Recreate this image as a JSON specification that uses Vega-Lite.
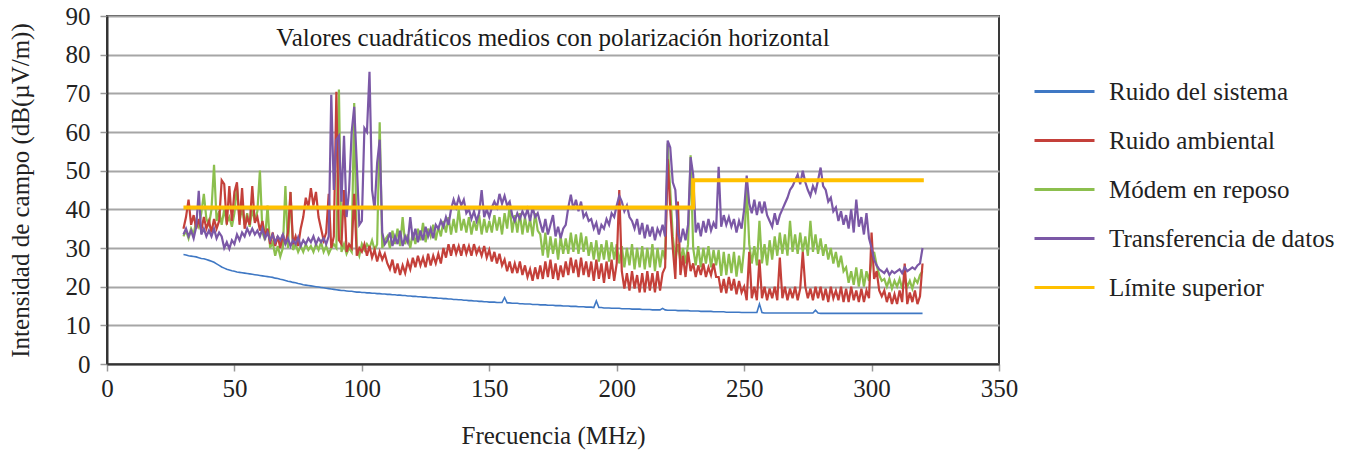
{
  "$schema": "https://vega.github.io/schema/vega-lite/v6.json",
  "width": 892,
  "height": 348,
  "autosize": {"type": "none"},
  "padding": {"left": 107, "top": 16, "right": 349, "bottom": 88},
  "background": "white",
  "title": {
    "text": "Valores cuadráticos medios con polarización horizontal",
    "frame": "group",
    "anchor": "middle",
    "offset": -47,
    "font": "Liberation Serif",
    "fontSize": 25,
    "fontWeight": "normal",
    "color": "#1a1a1a"
  },
  "config": {
    "view": {"stroke": "#3a3a3a", "strokeWidth": 2},
    "axis": {
      "labelFont": "Liberation Serif",
      "titleFont": "Liberation Serif",
      "labelFontSize": 25,
      "titleFontSize": 25,
      "titleFontWeight": "normal",
      "labelColor": "#222222",
      "titleColor": "#222222",
      "domainColor": "#333333",
      "domainWidth": 2,
      "tickColor": "#999999",
      "tickWidth": 1.5,
      "tickSize": 7,
      "labelOverlap": false
    },
    "axisX": {"grid": false, "labelFlush": false, "labelPadding": 5, "titlePadding": 22},
    "axisY": {
      "grid": true,
      "gridColor": "#a6a6a6",
      "gridWidth": 2,
      "labelPadding": 10,
      "titlePadding": 32
    },
    "legend": {
      "orient": "none",
      "legendX": 926,
      "legendY": 44,
      "symbolType": "stroke",
      "symbolSize": 3600,
      "symbolStrokeWidth": 3,
      "labelFont": "Liberation Serif",
      "labelFontSize": 25,
      "labelColor": "#222222",
      "labelOffset": 13,
      "labelLimit": 400,
      "rowPadding": 4
    }
  },
  "datasets": {
    "limite": [
      {"f": 30, "v": 40.5},
      {"f": 230, "v": 47.5},
      {"f": 320.5, "v": 47.5}
    ],
    "espectro": [
      {"f":30,"s":28.3,"a":35,"m":33,"t":33.5},
      {"f":31,"s":28.2,"a":38,"m":34.5,"t":35},
      {"f":32,"s":28.0,"a":42.5,"m":32.5,"t":33},
      {"f":33,"s":27.9,"a":36,"m":35,"t":34.5},
      {"f":34,"s":27.8,"a":38.5,"m":33.5,"t":32.5},
      {"f":35,"s":27.7,"a":35,"m":37,"t":35.5},
      {"f":36,"s":27.5,"a":37.5,"m":35.5,"t":44.8},
      {"f":37,"s":27.3,"a":34.5,"m":39,"t":33.5},
      {"f":38,"s":27.2,"a":38,"m":44,"t":35},
      {"f":39,"s":27.0,"a":35,"m":37.5,"t":33},
      {"f":40,"s":26.8,"a":37,"m":36,"t":34.5},
      {"f":41,"s":26.6,"a":34,"m":40,"t":33},
      {"f":42,"s":26.3,"a":37.5,"m":51.5,"t":35},
      {"f":43,"s":25.9,"a":35,"m":37,"t":32.5},
      {"f":44,"s":25.5,"a":37,"m":39.5,"t":34},
      {"f":45,"s":25.1,"a":47.5,"m":36,"t":33},
      {"f":46,"s":24.8,"a":46.5,"m":40,"t":30},
      {"f":47,"s":24.5,"a":36,"m":36.5,"t":31.5},
      {"f":48,"s":24.3,"a":46,"m":38,"t":29.8},
      {"f":49,"s":24.1,"a":37,"m":35.5,"t":32},
      {"f":50,"s":24.0,"a":44.5,"m":39,"t":31},
      {"f":51,"s":23.8,"a":47,"m":46,"t":33.5},
      {"f":52,"s":23.7,"a":36,"m":37,"t":32},
      {"f":53,"s":23.6,"a":45.5,"m":40.5,"t":34},
      {"f":54,"s":23.5,"a":35,"m":36,"t":33},
      {"f":55,"s":23.4,"a":38,"m":39,"t":35},
      {"f":56,"s":23.3,"a":36,"m":35.5,"t":33.5},
      {"f":57,"s":23.2,"a":46,"m":40,"t":35},
      {"f":58,"s":23.1,"a":36.5,"m":37,"t":33.5},
      {"f":59,"s":23.0,"a":38,"m":39.5,"t":34.5},
      {"f":60,"s":22.9,"a":34.5,"m":50,"t":33},
      {"f":61,"s":22.8,"a":37,"m":34,"t":35},
      {"f":62,"s":22.7,"a":33,"m":32,"t":32.5},
      {"f":63,"s":22.6,"a":35,"m":41,"t":34},
      {"f":64,"s":22.5,"a":31,"m":30,"t":32},
      {"f":65,"s":22.4,"a":34,"m":31.5,"t":33.5},
      {"f":66,"s":22.2,"a":30.5,"m":28,"t":31.5},
      {"f":67,"s":22.1,"a":33,"m":30.5,"t":33},
      {"f":68,"s":21.9,"a":30,"m":27.8,"t":32},
      {"f":69,"s":21.8,"a":33.5,"m":30,"t":33.5},
      {"f":70,"s":21.6,"a":31,"m":46,"t":31},
      {"f":71,"s":21.4,"a":34,"m":30,"t":32.5},
      {"f":72,"s":21.3,"a":44.5,"m":44.5,"t":30.5},
      {"f":73,"s":21.1,"a":31,"m":29.5,"t":32},
      {"f":74,"s":21.0,"a":33,"m":31,"t":31},
      {"f":75,"s":20.8,"a":30.5,"m":29,"t":32.8},
      {"f":76,"s":20.7,"a":35,"m":30.5,"t":30.5},
      {"f":77,"s":20.5,"a":38,"m":29,"t":32},
      {"f":78,"s":20.4,"a":43,"m":31,"t":31},
      {"f":79,"s":20.3,"a":40.5,"m":29.5,"t":32.5},
      {"f":80,"s":20.2,"a":45.5,"m":30.5,"t":31.5},
      {"f":81,"s":20.1,"a":41,"m":29,"t":33},
      {"f":82,"s":20.0,"a":44.5,"m":31,"t":31},
      {"f":83,"s":19.9,"a":38,"m":29.5,"t":32.5},
      {"f":84,"s":19.8,"a":35,"m":31.5,"t":31.5},
      {"f":85,"s":19.7,"a":32,"m":29,"t":32.5},
      {"f":86,"s":19.6,"a":34,"m":30.5,"t":31},
      {"f":87,"s":19.5,"a":44,"m":28.5,"t":33},
      {"f":88,"s":19.4,"a":30,"m":30,"t":69.6},
      {"f":89,"s":19.3,"a":33,"m":31,"t":45},
      {"f":90,"s":19.2,"a":70.4,"m":30,"t":58},
      {"f":91,"s":19.1,"a":32,"m":71,"t":59},
      {"f":92,"s":19.0,"a":31,"m":29,"t":42},
      {"f":93,"s":19.0,"a":45,"m":31,"t":59},
      {"f":94,"s":18.9,"a":29,"m":28.5,"t":38},
      {"f":95,"s":18.8,"a":31,"m":30,"t":45},
      {"f":96,"s":18.8,"a":30,"m":29,"t":60},
      {"f":97,"s":18.7,"a":44,"m":67.5,"t":66.5},
      {"f":98,"s":18.6,"a":28,"m":30,"t":52},
      {"f":99,"s":18.6,"a":30,"m":28,"t":36},
      {"f":100,"s":18.5,"a":29,"m":31,"t":37},
      {"f":101,"s":18.5,"a":31,"m":29.5,"t":61},
      {"f":102,"s":18.4,"a":28,"m":31,"t":60},
      {"f":103,"s":18.4,"a":30.5,"m":30,"t":75.6},
      {"f":104,"s":18.3,"a":27.5,"m":32,"t":45},
      {"f":105,"s":18.3,"a":29.5,"m":29.5,"t":40},
      {"f":106,"s":18.2,"a":26.5,"m":31,"t":52},
      {"f":107,"s":18.2,"a":29,"m":62.5,"t":58},
      {"f":108,"s":18.1,"a":27,"m":30,"t":34},
      {"f":109,"s":18.1,"a":28.5,"m":32,"t":31},
      {"f":110,"s":18.0,"a":26,"m":33,"t":32},
      {"f":111,"s":18.0,"a":24.5,"m":30,"t":34},
      {"f":112,"s":17.9,"a":27,"m":34.5,"t":30.5},
      {"f":113,"s":17.9,"a":23.5,"m":31,"t":33},
      {"f":114,"s":17.8,"a":26,"m":35,"t":31},
      {"f":115,"s":17.8,"a":23,"m":30.5,"t":34.5},
      {"f":116,"s":17.7,"a":25.5,"m":38,"t":30.5},
      {"f":117,"s":17.7,"a":23.5,"m":31,"t":33},
      {"f":118,"s":17.6,"a":26.5,"m":33.5,"t":31.5},
      {"f":119,"s":17.6,"a":24.5,"m":30,"t":38},
      {"f":120,"s":17.5,"a":27.5,"m":34,"t":32},
      {"f":121,"s":17.5,"a":25,"m":31,"t":35},
      {"f":122,"s":17.4,"a":28,"m":35,"t":31.5},
      {"f":123,"s":17.4,"a":25.5,"m":32,"t":34.5},
      {"f":124,"s":17.3,"a":27.5,"m":36.5,"t":32},
      {"f":125,"s":17.3,"a":25,"m":31.5,"t":35.5},
      {"f":126,"s":17.2,"a":28.5,"m":35,"t":33},
      {"f":127,"s":17.2,"a":25.5,"m":33,"t":35},
      {"f":128,"s":17.1,"a":28,"m":36,"t":32.5},
      {"f":129,"s":17.1,"a":26,"m":32,"t":36},
      {"f":130,"s":17.0,"a":28.5,"m":35.5,"t":35},
      {"f":131,"s":17.0,"a":26,"m":33,"t":37},
      {"f":132,"s":16.9,"a":30,"m":37,"t":35.5},
      {"f":133,"s":16.9,"a":27.5,"m":34,"t":38},
      {"f":134,"s":16.8,"a":31,"m":38,"t":36},
      {"f":135,"s":16.8,"a":28,"m":33.5,"t":40},
      {"f":136,"s":16.7,"a":31,"m":37.5,"t":42.5},
      {"f":137,"s":16.7,"a":28.5,"m":34,"t":40.5},
      {"f":138,"s":16.6,"a":30.5,"m":40,"t":43},
      {"f":139,"s":16.6,"a":28,"m":34.5,"t":41},
      {"f":140,"s":16.5,"a":31,"m":37.5,"t":42.5},
      {"f":141,"s":16.5,"a":28.5,"m":34,"t":39},
      {"f":142,"s":16.4,"a":30.5,"m":38,"t":40},
      {"f":143,"s":16.4,"a":28,"m":33.5,"t":37.5},
      {"f":144,"s":16.3,"a":31,"m":37,"t":39.5},
      {"f":145,"s":16.3,"a":28.5,"m":34.5,"t":37},
      {"f":146,"s":16.2,"a":30,"m":38.5,"t":39},
      {"f":147,"s":16.2,"a":28,"m":33.5,"t":45},
      {"f":148,"s":16.1,"a":30.5,"m":37.5,"t":38},
      {"f":149,"s":16.1,"a":27.5,"m":34,"t":40},
      {"f":150,"s":16.0,"a":29.5,"m":37,"t":38},
      {"f":151,"s":16.0,"a":26.5,"m":34,"t":40.5},
      {"f":152,"s":16.0,"a":29,"m":38.5,"t":42},
      {"f":153,"s":15.9,"a":26,"m":34.5,"t":40.5},
      {"f":154,"s":15.9,"a":28.5,"m":38,"t":44},
      {"f":155,"s":15.9,"a":25.5,"m":33.5,"t":41.5},
      {"f":156,"s":17.2,"a":27,"m":39,"t":43.5},
      {"f":157,"s":15.8,"a":24,"m":35,"t":41},
      {"f":158,"s":15.8,"a":26.5,"m":41,"t":42},
      {"f":159,"s":15.7,"a":23.5,"m":34,"t":38.5},
      {"f":160,"s":15.7,"a":26,"m":38.5,"t":37},
      {"f":161,"s":15.7,"a":23.5,"m":34,"t":39},
      {"f":162,"s":15.6,"a":26.5,"m":39,"t":37.5},
      {"f":163,"s":15.6,"a":23,"m":33.5,"t":39.5},
      {"f":164,"s":15.5,"a":25.5,"m":38,"t":38},
      {"f":165,"s":15.5,"a":22.5,"m":34,"t":40},
      {"f":166,"s":15.5,"a":24.5,"m":37.5,"t":37},
      {"f":167,"s":15.4,"a":21.5,"m":33,"t":40.5},
      {"f":168,"s":15.4,"a":25,"m":39,"t":38},
      {"f":169,"s":15.4,"a":22,"m":34.5,"t":39},
      {"f":170,"s":15.3,"a":25.5,"m":33.5,"t":36.5},
      {"f":171,"s":15.3,"a":22,"m":28,"t":34},
      {"f":172,"s":15.3,"a":26.5,"m":34,"t":37.5},
      {"f":173,"s":15.2,"a":22.5,"m":27.5,"t":33.5},
      {"f":174,"s":15.2,"a":27,"m":33,"t":36},
      {"f":175,"s":15.2,"a":22,"m":28.5,"t":38.5},
      {"f":176,"s":15.1,"a":26,"m":32.5,"t":33},
      {"f":177,"s":15.1,"a":21.7,"m":27,"t":35.5},
      {"f":178,"s":15.1,"a":25.5,"m":33,"t":32.5},
      {"f":179,"s":15.0,"a":22.5,"m":28.5,"t":35},
      {"f":180,"s":15.0,"a":26.5,"m":32.5,"t":36},
      {"f":181,"s":15.0,"a":23,"m":28.5,"t":40.5},
      {"f":182,"s":14.9,"a":27.5,"m":34,"t":43.8},
      {"f":183,"s":14.9,"a":23.5,"m":29,"t":40},
      {"f":184,"s":14.9,"a":27,"m":33.5,"t":42.5},
      {"f":185,"s":14.8,"a":22.5,"m":28.5,"t":39.5},
      {"f":186,"s":14.8,"a":27.5,"m":34,"t":42},
      {"f":187,"s":14.8,"a":23,"m":29,"t":38},
      {"f":188,"s":14.7,"a":26.5,"m":33,"t":39},
      {"f":189,"s":14.7,"a":22.5,"m":28,"t":37},
      {"f":190,"s":14.7,"a":26.5,"m":31.5,"t":37.5},
      {"f":191,"s":14.6,"a":21.5,"m":27,"t":35},
      {"f":192,"s":16.3,"a":27,"m":32,"t":36.5},
      {"f":193,"s":14.6,"a":22,"m":26.5,"t":33.5},
      {"f":194,"s":14.6,"a":26,"m":31,"t":36},
      {"f":195,"s":14.5,"a":21,"m":27,"t":35},
      {"f":196,"s":14.5,"a":26.5,"m":32,"t":37.5},
      {"f":197,"s":14.5,"a":22,"m":26.5,"t":36},
      {"f":198,"s":14.4,"a":27,"m":31.5,"t":39},
      {"f":199,"s":14.4,"a":21.5,"m":27,"t":38},
      {"f":200,"s":14.4,"a":26,"m":31,"t":41},
      {"f":201,"s":14.4,"a":45,"m":26,"t":43.5},
      {"f":202,"s":14.3,"a":24,"m":30.5,"t":42},
      {"f":203,"s":14.3,"a":19.5,"m":25,"t":39.5},
      {"f":204,"s":14.3,"a":23.5,"m":30,"t":41},
      {"f":205,"s":14.3,"a":19,"m":25.5,"t":38},
      {"f":206,"s":14.2,"a":24,"m":31,"t":37},
      {"f":207,"s":14.2,"a":19.5,"m":24.5,"t":35},
      {"f":208,"s":14.2,"a":23,"m":30,"t":37.5},
      {"f":209,"s":14.2,"a":18.5,"m":25,"t":33.5},
      {"f":210,"s":14.1,"a":23.5,"m":30.5,"t":36.5},
      {"f":211,"s":14.1,"a":18.5,"m":24.5,"t":32.5},
      {"f":212,"s":14.1,"a":24,"m":30,"t":36},
      {"f":213,"s":14.1,"a":19,"m":25,"t":33},
      {"f":214,"s":14.0,"a":23.5,"m":31,"t":35.5},
      {"f":215,"s":14.0,"a":18.5,"m":24,"t":32},
      {"f":216,"s":14.0,"a":24,"m":30,"t":35},
      {"f":217,"s":14.0,"a":19,"m":25,"t":33.5},
      {"f":218,"s":14.4,"a":23.5,"m":29.5,"t":36},
      {"f":219,"s":14.0,"a":25,"m":27,"t":33},
      {"f":220,"s":13.9,"a":53,"m":57,"t":57.8},
      {"f":221,"s":13.9,"a":40,"m":45,"t":56},
      {"f":222,"s":13.9,"a":30,"m":33,"t":47},
      {"f":223,"s":13.9,"a":22,"m":27,"t":45},
      {"f":224,"s":13.8,"a":42,"m":31,"t":34},
      {"f":225,"s":13.8,"a":23,"m":26.5,"t":31.5},
      {"f":226,"s":13.8,"a":28,"m":30,"t":35},
      {"f":227,"s":13.8,"a":22.5,"m":26,"t":32},
      {"f":228,"s":13.8,"a":29,"m":31,"t":36},
      {"f":229,"s":13.7,"a":24,"m":54,"t":53.5},
      {"f":230,"s":13.7,"a":26,"m":30,"t":49},
      {"f":231,"s":13.7,"a":22.5,"m":25.5,"t":34},
      {"f":232,"s":13.7,"a":25.5,"m":30.5,"t":36.5},
      {"f":233,"s":13.6,"a":23,"m":25,"t":33},
      {"f":234,"s":13.6,"a":26,"m":30,"t":37},
      {"f":235,"s":13.6,"a":22.5,"m":26,"t":34},
      {"f":236,"s":13.6,"a":25,"m":30.5,"t":37.5},
      {"f":237,"s":13.6,"a":23,"m":25,"t":34.5},
      {"f":238,"s":13.5,"a":26,"m":29.5,"t":36.5},
      {"f":239,"s":13.5,"a":22.5,"m":25.5,"t":35},
      {"f":240,"s":13.5,"a":22.5,"m":29.5,"t":51},
      {"f":241,"s":13.5,"a":18.5,"m":22.8,"t":35.5},
      {"f":242,"s":13.5,"a":22,"m":29,"t":38.5},
      {"f":243,"s":13.4,"a":18.3,"m":23,"t":36},
      {"f":244,"s":13.4,"a":22.5,"m":28.5,"t":38},
      {"f":245,"s":13.4,"a":19,"m":23.5,"t":35.5},
      {"f":246,"s":13.4,"a":22,"m":29,"t":37.5},
      {"f":247,"s":13.4,"a":18,"m":22.6,"t":34},
      {"f":248,"s":13.4,"a":21.5,"m":28,"t":37},
      {"f":249,"s":13.3,"a":18.5,"m":23.5,"t":35},
      {"f":250,"s":13.3,"a":20,"m":30,"t":40},
      {"f":251,"s":13.3,"a":16.5,"m":45.8,"t":48.7},
      {"f":252,"s":13.3,"a":29,"m":31,"t":41.5},
      {"f":253,"s":13.3,"a":17,"m":26,"t":39},
      {"f":254,"s":13.3,"a":20,"m":30.5,"t":42.5},
      {"f":255,"s":13.3,"a":16.5,"m":25.5,"t":38.5},
      {"f":256,"s":15.5,"a":27,"m":37,"t":42},
      {"f":257,"s":13.3,"a":17,"m":26,"t":39},
      {"f":258,"s":13.2,"a":20,"m":31,"t":42},
      {"f":259,"s":13.2,"a":16.5,"m":25.5,"t":38.5},
      {"f":260,"s":13.2,"a":19.5,"m":32,"t":37},
      {"f":261,"s":13.2,"a":17,"m":27,"t":35.5},
      {"f":262,"s":13.2,"a":20,"m":33,"t":39},
      {"f":263,"s":13.2,"a":16.5,"m":28,"t":36},
      {"f":264,"s":13.2,"a":27.5,"m":34,"t":38.5},
      {"f":265,"s":13.2,"a":17,"m":28.5,"t":40},
      {"f":266,"s":13.2,"a":20,"m":33.5,"t":41.5},
      {"f":267,"s":13.2,"a":16.5,"m":28,"t":43},
      {"f":268,"s":13.2,"a":19.5,"m":37,"t":45},
      {"f":269,"s":13.2,"a":17,"m":29,"t":46},
      {"f":270,"s":13.2,"a":20,"m":33.5,"t":47.5},
      {"f":271,"s":13.2,"a":16.5,"m":28.5,"t":49},
      {"f":272,"s":13.2,"a":19.5,"m":34,"t":46.5},
      {"f":273,"s":13.2,"a":29,"m":29,"t":50},
      {"f":274,"s":13.2,"a":20,"m":33,"t":47},
      {"f":275,"s":13.2,"a":17,"m":28,"t":45},
      {"f":276,"s":13.2,"a":19.5,"m":37,"t":43.5},
      {"f":277,"s":13.2,"a":16.5,"m":29,"t":46},
      {"f":278,"s":13.9,"a":20,"m":33.5,"t":44.5},
      {"f":279,"s":13.2,"a":17,"m":28.5,"t":47.5},
      {"f":280,"s":13.1,"a":20,"m":32.5,"t":50.8},
      {"f":281,"s":13.1,"a":16.5,"m":28,"t":46},
      {"f":282,"s":13.1,"a":19.5,"m":31,"t":45},
      {"f":283,"s":13.1,"a":16,"m":27,"t":42},
      {"f":284,"s":13.1,"a":20,"m":30,"t":43},
      {"f":285,"s":13.1,"a":17,"m":26,"t":39.5},
      {"f":286,"s":13.1,"a":19,"m":29,"t":40.5},
      {"f":287,"s":13.1,"a":16.5,"m":25,"t":37},
      {"f":288,"s":13.1,"a":20,"m":28,"t":39.5},
      {"f":289,"s":13.1,"a":16,"m":24,"t":36},
      {"f":290,"s":13.1,"a":19.5,"m":25,"t":38.5},
      {"f":291,"s":13.1,"a":16,"m":21,"t":35},
      {"f":292,"s":13.1,"a":20,"m":24,"t":40},
      {"f":293,"s":13.1,"a":16.5,"m":20.5,"t":34},
      {"f":294,"s":13.1,"a":19,"m":25,"t":42.5},
      {"f":295,"s":13.1,"a":16,"m":20,"t":35.5},
      {"f":296,"s":13.1,"a":19.5,"m":24.5,"t":38},
      {"f":297,"s":13.1,"a":16,"m":20,"t":33.5},
      {"f":298,"s":13.1,"a":19,"m":24,"t":39},
      {"f":299,"s":13.1,"a":17,"m":21.5,"t":32.5},
      {"f":300,"s":13.1,"a":34,"m":27,"t":30},
      {"f":301,"s":13.1,"a":22,"m":29,"t":27},
      {"f":302,"s":13.1,"a":24,"m":25.5,"t":25.5},
      {"f":303,"s":13.1,"a":19,"m":23,"t":24.5},
      {"f":304,"s":13.1,"a":17.5,"m":21.5,"t":24},
      {"f":305,"s":13.1,"a":19,"m":22,"t":23.5},
      {"f":306,"s":13.1,"a":16,"m":20,"t":24.5},
      {"f":307,"s":13.1,"a":18.5,"m":22,"t":23},
      {"f":308,"s":13.1,"a":15.5,"m":19.5,"t":24},
      {"f":309,"s":13.1,"a":18,"m":21.5,"t":23.5},
      {"f":310,"s":13.1,"a":15.5,"m":20,"t":24},
      {"f":311,"s":13.1,"a":19,"m":22,"t":24.5},
      {"f":312,"s":13.1,"a":16,"m":19.5,"t":23.5},
      {"f":313,"s":13.1,"a":26,"m":22.5,"t":25},
      {"f":314,"s":13.1,"a":15.5,"m":20,"t":24},
      {"f":315,"s":13.1,"a":18.5,"m":21.5,"t":24.5},
      {"f":316,"s":13.1,"a":16,"m":19.5,"t":25},
      {"f":317,"s":13.1,"a":19,"m":22,"t":24.5},
      {"f":318,"s":13.1,"a":15.5,"m":21,"t":25.5},
      {"f":319,"s":13.1,"a":17.5,"m":23,"t":26},
      {"f":320,"s":13.1,"a":26,"m":24,"t":30}
    ]
  },
  "encoding": {
    "x": {
      "field": "f",
      "type": "quantitative",
      "scale": {"domain": [0, 350]},
      "axis": {
        "values": [0, 50, 100, 150, 200, 250, 300, 350],
        "tickCount": 8,
        "title": "Frecuencia (MHz)"
      }
    },
    "y": {
      "field": "v",
      "type": "quantitative",
      "scale": {"domain": [0, 90], "nice": false},
      "axis": {
        "values": [0, 10, 20, 30, 40, 50, 60, 70, 80, 90],
        "tickCount": 10,
        "title": "Intensidad de campo (dB(µV/m))"
      }
    }
  },
  "layer": [
    {
      "data": {"name": "espectro"},
      "transform": [{"fold": ["s"], "as": ["k", "v"]}],
      "mark": {"type": "line", "strokeWidth": 1.6},
      "encoding": {
        "color": {
          "field": "k",
          "type": "nominal",
          "scale": {
            "domain": ["s", "a", "m", "t", "l"],
            "range": ["#3f78c4", "#c4403a", "#8cbf4e", "#7b58a6", "#ffc000"]
          },
          "legend": {
            "title": null,
            "labelExpr": "datum.label == 's' ? 'Ruido del sistema' : datum.label == 'a' ? 'Ruido ambiental' : datum.label == 'm' ? 'Módem en reposo' : datum.label == 't' ? 'Transferencia de datos' : 'Límite superior'"
          }
        }
      }
    },
    {
      "data": {"name": "espectro"},
      "transform": [{"fold": ["m", "a", "t"], "as": ["k", "v"]}],
      "mark": {"type": "line", "strokeWidth": 2.2},
      "encoding": {
        "color": {"field": "k", "type": "nominal"}
      }
    },
    {
      "data": {"name": "limite"},
      "mark": {"type": "line", "strokeWidth": 4, "interpolate": "step-after"},
      "encoding": {
        "color": {"datum": "l", "type": "nominal"}
      }
    }
  ]
}
